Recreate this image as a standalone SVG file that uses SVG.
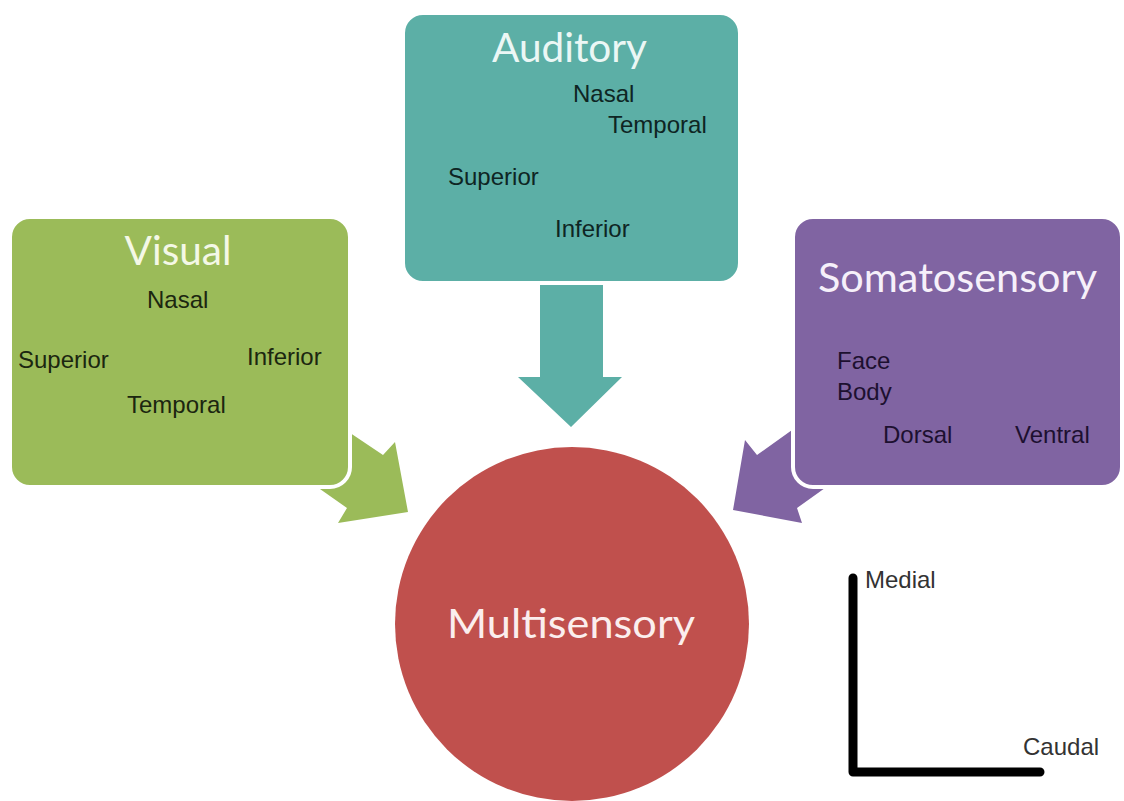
<svg xmlns="http://www.w3.org/2000/svg" width="1124" height="801" viewBox="0 0 1124 801">
  <style>
    .box { stroke: #ffffff; stroke-width: 4; }
    .title { font-family: Lato, "Open Sans", sans-serif; font-size: 41px; text-anchor: middle; }
    .lbl { font-family: "Liberation Sans", Arial, sans-serif; font-size: 24px; }
    .axis { fill: none; stroke: #000000; stroke-width: 9; stroke-linecap: round; stroke-linejoin: round; }
    .axlbl { font-family: "Liberation Sans", Arial, sans-serif; font-size: 24px; fill: #333333; }
  </style>
  <rect x="0" y="0" width="1124" height="801" fill="#ffffff"/>

  <g id="connectors">
    <polygon id="arrow-visual" fill="#9bbb59" points="307,404 383,455 395,442 408,512 338,523 347,508 283,463"/>
    <polygon id="arrow-auditory" fill="#5cafa6" points="540,270 603,270 603,377 622,377 571,427 518,377 540,377"/>
    <polygon id="arrow-somato" fill="#8064a2" points="806,420 757,455 745,440 733,510 802,523 797,508 846,473"/>
  </g>

  <g id="visual">
    <rect class="box" x="10" y="217" width="340" height="270" rx="20" fill="#9bbb59"/>
    <text class="title" x="178" y="265" fill="#f4f8e6" textLength="107" lengthAdjust="spacingAndGlyphs">Visual</text>
    <g class="lbl" fill="#1b2610">
      <text x="147" y="308">Nasal</text>
      <text x="18" y="368">Superior</text>
      <text x="247" y="365">Inferior</text>
      <text x="127" y="413">Temporal</text>
    </g>
  </g>

  <g id="auditory">
    <rect class="box" x="403" y="13" width="337" height="270" rx="20" fill="#5cafa6"/>
    <text class="title" x="569.5" y="62" fill="#ebf7f5" textLength="155" lengthAdjust="spacingAndGlyphs">Auditory</text>
    <g class="lbl" fill="#0e2523">
      <text x="573" y="102">Nasal</text>
      <text x="608" y="133">Temporal</text>
      <text x="448" y="185">Superior</text>
      <text x="555" y="237">Inferior</text>
    </g>
  </g>

  <g id="somatosensory">
    <rect class="box" x="793" y="217" width="329" height="270" rx="20" fill="#8064a2"/>
    <text class="title" x="957.5" y="292" fill="#f6f0fa" textLength="279" lengthAdjust="spacingAndGlyphs">Somatosensory</text>
    <g class="lbl" fill="#1d1030">
      <text x="837" y="369">Face</text>
      <text x="837" y="400">Body</text>
      <text x="883" y="443">Dorsal</text>
      <text x="1015" y="443">Ventral</text>
    </g>
  </g>

  <g id="multisensory">
    <circle cx="572" cy="624" r="177" fill="#c0504d"/>
    <text class="title" x="571" y="638" fill="#fbeeee" textLength="248" lengthAdjust="spacingAndGlyphs">Multisensory</text>
  </g>

  <g id="axes">
    <path class="axis" d="M853,578 L853,772 L1040,772"/>
    <text class="axlbl" x="865" y="588">Medial</text>
    <text class="axlbl" x="1023" y="755">Caudal</text>
  </g>
</svg>
